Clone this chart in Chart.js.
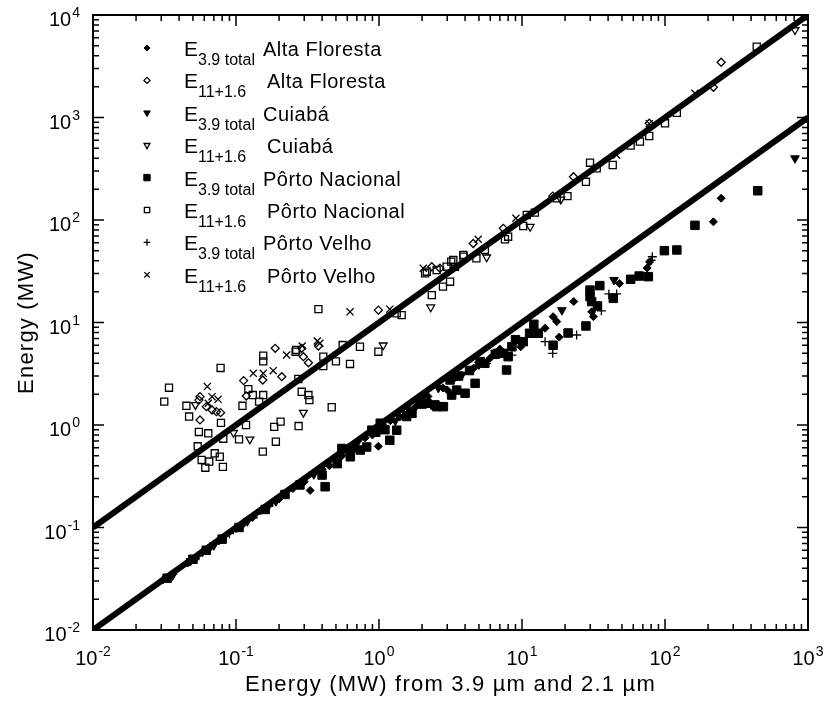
<!DOCTYPE html>
<html>
<head>
<meta charset="utf-8">
<script src="https://cdn.jsdelivr.net/npm/chart.js@4/dist/chart.umd.min.js"></script>
<style>
  html, body { margin: 0; padding: 0; background: #fff; }
  #wrap { width: 831px; height: 702px; }
</style>
</head>
<body>
<div id="wrap"><canvas id="chart" width="831" height="702"></canvas></div>
<script>
// E3.9 total / E11+1.6 per site, [x, y] in MW
const afTotal = [[0.031,0.031],[0.034,0.033],[0.046,0.045],[0.052,0.05],[0.058,0.057],[0.066,0.064],[0.076,0.074],[0.1,0.098],[0.11,0.105],[0.13,0.125],[0.17,0.165],[0.2,0.19],[0.25,0.24],[0.3,0.28],[0.33,0.23],[0.4,0.37],[0.45,0.4],[0.55,0.5],[0.6,0.55],[0.7,0.6],[0.8,0.75],[0.9,0.8],[0.99,0.62],[1.1,0.95],[1.2,1.1],[1.4,1.2],[1.6,1.45],[1.8,1.5],[2.2,1.9],[2.8,2.3],[3.0,2.2],[3.4,2.9],[4.6,3.6],[6,4.5],[7,5.5],[9.8,5.8],[14.5,8.8],[16.5,11.4],[17.5,10.2],[18.2,7.2],[23,16],[30.7,12.7],[31.6,11.4],[43,17.2],[48,24],[75,34],[78,39],[218,96],[247,163]];
const afEleven = [[0.055,1.75],[0.056,1.12],[0.056,1.89],[0.062,1.51],[0.068,1.4],[0.073,1.35],[0.078,1.32],[0.113,2.71],[0.118,1.92],[0.154,2.75],[0.188,5.6],[0.209,2.96],[0.288,5.6],[0.296,4.64],[0.321,4.05],[0.377,5.9],[0.99,13.2],[2.34,35],[2.67,33.8],[4.56,59],[7.4,83],[16.4,171],[22.9,264],[77.6,878],[218,1970],[247,3460]];
const cuTotal = [[0.036,0.034],[0.048,0.047],[0.07,0.067],[0.12,0.115],[0.19,0.18],[0.35,0.33],[0.7,0.66],[1.0,0.95],[1.3,1.1],[2.6,2.3],[3.8,3.1],[5,3.9],[6.8,5.2],[19,13.2],[44,26],[811,400]];
const cuEleven = [[0.052,1.57],[0.096,0.84],[0.125,0.725],[0.296,1.32],[1.07,6.0],[2.3,14.1],[5.66,43.3],[11.4,86],[18.7,159],[811,7140]];
const pnTotal = [[0.033,0.032],[0.05,0.049],[0.062,0.06],[0.08,0.077],[0.105,0.1],[0.16,0.15],[0.22,0.21],[0.28,0.26],[0.4,0.325],[0.42,0.25],[0.51,0.42],[0.55,0.59],[0.63,0.49],[0.65,0.6],[0.74,0.57],[0.82,0.61],[0.89,0.89],[0.95,0.85],[1.02,1.04],[1.1,0.9],[1.19,0.71],[1.33,0.89],[1.56,1.21],[1.7,1.3],[1.94,1.75],[2.0,1.6],[2.16,1.63],[2.46,1.57],[2.53,1.51],[2.82,1.51],[3.14,2.75],[3.22,1.96],[3.49,2.19],[3.6,3.0],[4.0,2.04],[4.3,3.4],[4.7,2.55],[5.1,4.15],[5.5,4.0],[6.5,4.9],[7.4,5.0],[7.8,3.44],[8.0,4.64],[8.5,5.8],[9.0,6.8],[10.2,6.5],[11.3,7.85],[12.1,9.6],[13,7.85],[16.5,6.0],[21,7.9],[28,9.25],[29.9,20.7],[29.9,17.9],[30.7,16],[33.7,14.5],[35,22.9],[43.5,17.2],[57.5,26.4],[66,28.4],[76.5,28],[99,50.2],[121,51],[162,88.7],[445,193]];
const pnEleven = [[0.0315,1.69],[0.034,2.31],[0.045,1.54],[0.047,1.21],[0.054,0.62],[0.055,0.855],[0.0575,0.456],[0.061,0.383],[0.064,0.83],[0.065,0.44],[0.071,0.53],[0.077,0.49],[0.078,3.6],[0.0785,1.05],[0.081,0.39],[0.0815,0.735],[0.105,0.725],[0.111,1.54],[0.1175,1.0],[0.122,2.24],[0.131,1.96],[0.145,1.69],[0.154,0.55],[0.155,1.96],[0.155,4.75],[0.155,4.18],[0.185,0.96],[0.19,0.687],[0.205,1.08],[0.261,5.19],[0.264,5.4],[0.273,2.81],[0.274,0.977],[0.288,2.11],[0.321,1.96],[0.326,1.75],[0.377,13.5],[0.408,4.64],[0.408,3.76],[0.467,1.49],[0.5,4.18],[0.557,6.03],[0.627,3.94],[0.736,5.8],[0.99,5.19],[1.33,12.3],[1.44,11.8],[2.1,30.2],[2.16,31.3],[2.34,18.5],[2.53,32.5],[2.8,22.4],[2.97,35],[3.14,25],[3.2,39.2],[3.31,40.7],[3.4,35],[3.9,43.8],[3.89,45.6],[4.8,42.3],[5.5,51],[7.6,64.9],[8.0,68.7],[10.2,87.4],[10.8,112],[12.3,118],[17.5,163],[20.8,171],[28,236],[29.9,362],[33.3,319],[43.1,344],[57.5,531],[66.8,581],[77.6,660],[100,878],[121,1110],[438,4910]];
const pvTotal = [[0.036,0.035],[0.055,0.053],[0.09,0.087],[0.14,0.135],[0.18,0.175],[0.5,0.47],[1.5,1.35],[5.66,4.0],[8.5,4.8],[14.5,6.5],[16.4,5.0],[24.1,7.55],[35.9,13],[40.5,19],[45.9,19],[80,40.5],[81.5,43.8]];
const pvEleven = [[0.063,2.37],[0.064,1.63],[0.068,1.89],[0.075,1.78],[0.132,3.19],[0.155,3.19],[0.182,3.39],[0.226,4.82],[0.29,5.9],[0.37,6.6],[0.386,6.27],[0.627,12.7],[1.19,13.5],[2.04,33.8],[4.94,64.9],[9.07,104],[45.9,430],[77.6,870],[162,1720]];

// reference lines y = 10x and y = x
const lineTen = [[0.01,0.1],[1000,10000]];
const lineOne = [[0.01,0.01],[1000,1000]];

const xDecades = [-2,-1,0,1,2,3];
const yDecades = [-2,-1,0,1,2,3,4];
const legendSubs = ['3.9 total','11+1.6','3.9 total','11+1.6','3.9 total','11+1.6','3.9 total','11+1.6'];
const legendNames = ['Alta Floresta','Alta Floresta','Cuiabá','Cuiabá','Pôrto Nacional','Pôrto Nacional','Pôrto Velho','Pôrto Velho'];

const FONT = '"Liberation Sans", Arial, Helvetica, sans-serif';
const pts = arr => arr.map(p => ({ x: p[0], y: p[1] }));

function lineSet(arr) {
  return { type: 'line', data: pts(arr), borderColor: '#000', borderWidth: 6,
    pointRadius: 0, fill: false, borderCapStyle: 'butt' };
}
function pointSet(arr, style, radius, filled, rotation) {
  return { data: pts(arr), pointStyle: style, pointRadius: radius,
    pointRotation: rotation || 0,
    backgroundColor: filled ? '#000' : 'rgba(0,0,0,0)',
    borderColor: '#000', borderWidth: filled ? 1 : 1.3 };
}

function powLabel(ctx, exp, cx, baseY, align) {
  ctx.font = '20px ' + FONT;
  const wb = ctx.measureText('10').width;
  ctx.font = '14px ' + FONT;
  const es = String(exp);
  const we = ctx.measureText(es).width;
  const total = wb + 1 + we;
  const left = align === 'right' ? cx - total : cx - total / 2;
  ctx.font = '20px ' + FONT;
  ctx.fillText('10', left, baseY);
  ctx.font = '14px ' + FONT;
  ctx.fillText(es, left + wb + 1, baseY - 9);
}

const framePlugin = {
  id: 'frame',
  afterDraw(chart) {
    const { ctx, chartArea: a, scales: { x, y } } = chart;
    ctx.save();
    ctx.strokeStyle = '#000';
    ctx.fillStyle = '#000';
    ctx.lineWidth = 2;
    ctx.strokeRect(a.left, a.top, a.right - a.left, a.bottom - a.top);

    // inward ticks on all four sides
    ctx.lineWidth = 1.5;
    ctx.beginPath();
    xDecades.forEach(d => {
      for (let k = 1; k <= 9; k++) {
        if (d === xDecades[xDecades.length - 1] && k > 1) break;
        const px = x.getPixelForValue(k * Math.pow(10, d));
        const len = k === 1 ? 11 : 6;
        ctx.moveTo(px, a.bottom); ctx.lineTo(px, a.bottom - len);
        ctx.moveTo(px, a.top); ctx.lineTo(px, a.top + len);
      }
    });
    yDecades.forEach(d => {
      for (let k = 1; k <= 9; k++) {
        if (d === yDecades[yDecades.length - 1] && k > 1) break;
        const py = y.getPixelForValue(k * Math.pow(10, d));
        const len = k === 1 ? 11 : 6;
        ctx.moveTo(a.left, py); ctx.lineTo(a.left + len, py);
        ctx.moveTo(a.right, py); ctx.lineTo(a.right - len, py);
      }
    });
    ctx.stroke();

    // tick labels
    ctx.textAlign = 'left';
    ctx.textBaseline = 'alphabetic';
    xDecades.forEach(d => powLabel(ctx, d, x.getPixelForValue(Math.pow(10, d)), a.bottom + 35, 'center'));
    yDecades.forEach(d => powLabel(ctx, d, a.left - 13, y.getPixelForValue(Math.pow(10, d)) + 11, 'right'));

    // axis titles
    ctx.font = '22px ' + FONT;
    ctx.letterSpacing = '1.2px';
    ctx.textAlign = 'center';
    ctx.fillText('Energy (MW) from 3.9 µm and 2.1 µm', (a.left + a.right) / 2, 691);
    ctx.save();
    ctx.translate(33, (a.top + a.bottom) / 2);
    ctx.rotate(-Math.PI / 2);
    ctx.fillText('Energy (MW)', 0, 0);
    ctx.restore();

    // legend
    ctx.textAlign = 'left';
    legendNames.forEach((name, i) => {
      const cy = 48 + i * 32.4;
      const ds = chart.data.datasets[i + 2];
      ctx.fillStyle = ds.backgroundColor;
      ctx.strokeStyle = '#000';
      ctx.lineWidth = ds.borderWidth;
      Chart.helpers.drawPoint(ctx, { pointStyle: ds.pointStyle, radius: ds.pointRadius * 0.75,
        rotation: ds.pointRotation, borderWidth: ds.borderWidth }, 147, cy);
      ctx.fillStyle = '#000';
      ctx.letterSpacing = '0px';
      ctx.font = '21px ' + FONT;
      ctx.fillText('E', 184, cy + 8);
      ctx.font = '16px ' + FONT;
      ctx.fillText(legendSubs[i], 198, cy + 17);
      ctx.letterSpacing = '0.5px';
      ctx.font = '20px ' + FONT;
      ctx.fillText(name, i % 2 === 0 ? 263 : 267, cy + 8);
    });
    ctx.restore();
  }
};

const ctx = document.getElementById('chart').getContext('2d');
new Chart(ctx, {
  type: 'scatter',
  data: {
    datasets: [
      lineSet(lineTen),
      lineSet(lineOne),
      pointSet(afTotal, 'rectRot', 4, true),
      pointSet(afEleven, 'rectRot', 4, false),
      pointSet(cuTotal, 'triangle', 5, true, 180),
      pointSet(cuEleven, 'triangle', 4.5, false, 180),
      pointSet(pnTotal, 'rect', 6, true),
      pointSet(pnEleven, 'rect', 5, false),
      pointSet(pvTotal, 'cross', 4.5, false),
      pointSet(pvEleven, 'crossRot', 5, false)
    ]
  },
  options: {
    responsive: false,
    animation: false,
    layout: { padding: { left: 93, right: 23, top: 15, bottom: 72 } },
    plugins: { legend: { display: false }, tooltip: { enabled: false } },
    scales: {
      x: { type: 'logarithmic', min: 0.01, max: 1000, display: false },
      y: { type: 'logarithmic', min: 0.01, max: 10000, display: false }
    }
  },
  plugins: [framePlugin]
});
</script>
</body>
</html>
